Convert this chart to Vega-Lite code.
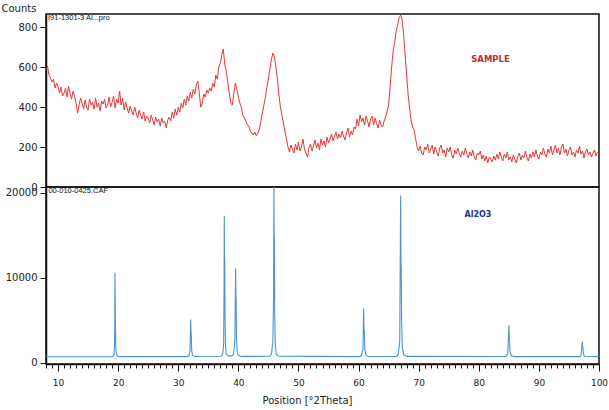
{
"$schema":"https://vega.github.io/schema/vega-lite/v6.json",
"background":"white",
"padding":{"left":0,"top":2,"right":5,"bottom":3},
"bounds":"flush",
"spacing":0,
"config":{"view":{"stroke":"#111","strokeWidth":1.5},"font":"DejaVu Sans",
"axis":{"domainColor":"#111","domainWidth":1.5,"tickColor":"#111","tickWidth":1,"labelColor":"#222","labelFont":"DejaVu Sans","grid":false}},
"datasets":{
"sample":[
{"x":8.0,"y":585},{"x":8.25,"y":605},{"x":8.5,"y":560},{"x":8.75,"y":545},{"x":9.0,"y":525},{"x":9.25,"y":540},{"x":9.5,"y":495},{"x":9.75,"y":520},
{"x":10.0,"y":505},{"x":10.25,"y":470},{"x":10.5,"y":500},{"x":10.75,"y":455},{"x":11.0,"y":470},{"x":11.25,"y":495},{"x":11.5,"y":450},{"x":11.75,"y":505},
{"x":12.0,"y":470},{"x":12.25,"y":440},{"x":12.5,"y":480},{"x":12.75,"y":455},{"x":13.0,"y":420},{"x":13.25,"y":370},{"x":13.5,"y":410},{"x":13.75,"y":445},
{"x":14.0,"y":420},{"x":14.25,"y":390},{"x":14.5,"y":435},{"x":14.75,"y":400},{"x":15.0,"y":385},{"x":15.25,"y":440},{"x":15.5,"y":410},{"x":15.75,"y":425},
{"x":16.0,"y":390},{"x":16.25,"y":445},{"x":16.5,"y":400},{"x":16.75,"y":420},{"x":17.0,"y":380},{"x":17.25,"y":430},{"x":17.5,"y":415},{"x":17.75,"y":440},
{"x":18.0,"y":395},{"x":18.25,"y":410},{"x":18.5,"y":450},{"x":18.75,"y":400},{"x":19.0,"y":425},{"x":19.25,"y":455},{"x":19.5,"y":395},{"x":19.75,"y":440},
{"x":20.0,"y":420},{"x":20.25,"y":480},{"x":20.5,"y":410},{"x":20.75,"y":445},{"x":21.0,"y":385},{"x":21.25,"y":425},{"x":21.5,"y":395},{"x":21.75,"y":370},
{"x":22.0,"y":405},{"x":22.25,"y":380},{"x":22.5,"y":360},{"x":22.75,"y":400},{"x":23.0,"y":370},{"x":23.25,"y":345},{"x":23.5,"y":385},{"x":23.75,"y":360},
{"x":24.0,"y":340},{"x":24.25,"y":375},{"x":24.5,"y":330},{"x":24.75,"y":355},{"x":25.0,"y":345},{"x":25.25,"y":320},{"x":25.5,"y":360},{"x":25.75,"y":335},
{"x":26.0,"y":310},{"x":26.25,"y":350},{"x":26.5,"y":325},{"x":26.75,"y":340},{"x":27.0,"y":305},{"x":27.25,"y":345},{"x":27.5,"y":320},{"x":27.75,"y":330},
{"x":28.0,"y":295},{"x":28.25,"y":335},{"x":28.5,"y":350},{"x":28.75,"y":330},{"x":29.0,"y":375},{"x":29.25,"y":345},{"x":29.5,"y":390},{"x":29.75,"y":360},
{"x":30.0,"y":400},{"x":30.25,"y":375},{"x":30.5,"y":420},{"x":30.75,"y":395},{"x":31.0,"y":440},{"x":31.25,"y":410},{"x":31.5,"y":455},{"x":31.75,"y":430},
{"x":32.0,"y":475},{"x":32.25,"y":445},{"x":32.5,"y":490},{"x":32.75,"y":465},{"x":33.0,"y":510},{"x":33.25,"y":530},{"x":33.5,"y":470},{"x":33.75,"y":400},
{"x":34.0,"y":420},{"x":34.25,"y":465},{"x":34.5,"y":450},{"x":34.75,"y":485},{"x":35.0,"y":470},{"x":35.25,"y":495},{"x":35.5,"y":480},{"x":35.75,"y":520},
{"x":36.0,"y":500},{"x":36.25,"y":560},{"x":36.5,"y":540},{"x":36.75,"y":600},{"x":37.0,"y":620},{"x":37.25,"y":660},{"x":37.5,"y":690},{"x":37.75,"y":610},
{"x":38.0,"y":580},{"x":38.25,"y":520},{"x":38.5,"y":470},{"x":38.75,"y":420},{"x":39.0,"y":410},{"x":39.25,"y":470},{"x":39.5,"y":520},{"x":39.75,"y":490},
{"x":40.0,"y":450},{"x":40.25,"y":420},{"x":40.5,"y":400},{"x":40.75,"y":360},{"x":41.0,"y":345},{"x":41.25,"y":330},{"x":41.5,"y":310},{"x":41.75,"y":305},
{"x":42.0,"y":280},{"x":42.25,"y":270},{"x":42.5,"y":260},{"x":42.75,"y":275},{"x":43.0,"y":255},{"x":43.25,"y":270},{"x":43.5,"y":290},{"x":43.75,"y":330},
{"x":44.0,"y":370},{"x":44.25,"y":410},{"x":44.5,"y":450},{"x":44.75,"y":500},{"x":45.0,"y":540},{"x":45.25,"y":590},{"x":45.5,"y":640},{"x":45.75,"y":670},
{"x":46.0,"y":650},{"x":46.25,"y":600},{"x":46.5,"y":540},{"x":46.75,"y":460},{"x":47.0,"y":400},{"x":47.25,"y":360},{"x":47.5,"y":320},{"x":47.75,"y":280},
{"x":48.0,"y":240},{"x":48.25,"y":200},{"x":48.5,"y":175},{"x":48.75,"y":210},{"x":49.0,"y":190},{"x":49.25,"y":170},{"x":49.5,"y":215},{"x":49.75,"y":185},
{"x":50.0,"y":225},{"x":50.25,"y":180},{"x":50.5,"y":200},{"x":50.75,"y":240},{"x":51.0,"y":190},{"x":51.25,"y":170},{"x":51.5,"y":150},{"x":51.75,"y":195},
{"x":52.0,"y":215},{"x":52.25,"y":180},{"x":52.5,"y":205},{"x":52.75,"y":235},{"x":53.0,"y":195},{"x":53.25,"y":220},{"x":53.5,"y":185},{"x":53.75,"y":240},
{"x":54.0,"y":210},{"x":54.25,"y":230},{"x":54.5,"y":200},{"x":54.75,"y":250},{"x":55.0,"y":220},{"x":55.25,"y":240},{"x":55.5,"y":265},{"x":55.75,"y":230},
{"x":56.0,"y":255},{"x":56.25,"y":275},{"x":56.5,"y":240},{"x":56.75,"y":265},{"x":57.0,"y":245},{"x":57.25,"y":280},{"x":57.5,"y":255},{"x":57.75,"y":235},
{"x":58.0,"y":270},{"x":58.25,"y":295},{"x":58.5,"y":250},{"x":58.75,"y":280},{"x":59.0,"y":260},{"x":59.25,"y":300},{"x":59.5,"y":290},{"x":59.75,"y":340},
{"x":60.0,"y":305},{"x":60.25,"y":360},{"x":60.5,"y":325},{"x":60.75,"y":345},{"x":61.0,"y":310},{"x":61.25,"y":355},{"x":61.5,"y":330},{"x":61.75,"y":300},
{"x":62.0,"y":340},{"x":62.25,"y":355},{"x":62.5,"y":310},{"x":62.75,"y":345},{"x":63.0,"y":320},{"x":63.25,"y":295},{"x":63.5,"y":335},{"x":63.75,"y":310},
{"x":64.0,"y":300},{"x":64.25,"y":330},{"x":64.5,"y":350},{"x":64.75,"y":380},{"x":65.0,"y":410},{"x":65.25,"y":500},{"x":65.5,"y":600},{"x":65.75,"y":680},
{"x":66.0,"y":720},{"x":66.25,"y":780},{"x":66.5,"y":810},{"x":66.75,"y":850},{"x":67.0,"y":860},{"x":67.25,"y":835},{"x":67.5,"y":760},{"x":67.75,"y":660},
{"x":68.0,"y":560},{"x":68.25,"y":460},{"x":68.5,"y":390},{"x":68.75,"y":330},{"x":69.0,"y":300},{"x":69.25,"y":285},{"x":69.5,"y":240},{"x":69.75,"y":200},
{"x":70.0,"y":180},{"x":70.25,"y":205},{"x":70.5,"y":170},{"x":70.75,"y":160},{"x":71.0,"y":200},{"x":71.25,"y":185},{"x":71.5,"y":215},{"x":71.75,"y":170},
{"x":72.0,"y":190},{"x":72.25,"y":210},{"x":72.5,"y":165},{"x":72.75,"y":200},{"x":73.0,"y":175},{"x":73.25,"y":155},{"x":73.5,"y":195},{"x":73.75,"y":210},
{"x":74.0,"y":170},{"x":74.25,"y":185},{"x":74.5,"y":150},{"x":74.75,"y":195},{"x":75.0,"y":175},{"x":75.25,"y":200},{"x":75.5,"y":160},{"x":75.75,"y":145},
{"x":76.0,"y":185},{"x":76.25,"y":165},{"x":76.5,"y":195},{"x":76.75,"y":170},{"x":77.0,"y":150},{"x":77.25,"y":180},{"x":77.5,"y":160},{"x":77.75,"y":195},
{"x":78.0,"y":170},{"x":78.25,"y":145},{"x":78.5,"y":175},{"x":78.75,"y":155},{"x":79.0,"y":185},{"x":79.25,"y":150},{"x":79.5,"y":135},{"x":79.75,"y":170},
{"x":80.0,"y":160},{"x":80.25,"y":180},{"x":80.5,"y":140},{"x":80.75,"y":160},{"x":81.0,"y":130},{"x":81.25,"y":155},{"x":81.5,"y":120},{"x":81.75,"y":150},
{"x":82.0,"y":140},{"x":82.25,"y":125},{"x":82.5,"y":155},{"x":82.75,"y":135},{"x":83.0,"y":165},{"x":83.25,"y":140},{"x":83.5,"y":175},{"x":83.75,"y":150},
{"x":84.0,"y":130},{"x":84.25,"y":165},{"x":84.5,"y":145},{"x":84.75,"y":175},{"x":85.0,"y":135},{"x":85.25,"y":150},{"x":85.5,"y":125},{"x":85.75,"y":160},
{"x":86.0,"y":140},{"x":86.25,"y":120},{"x":86.5,"y":155},{"x":86.75,"y":170},{"x":87.0,"y":135},{"x":87.25,"y":160},{"x":87.5,"y":145},{"x":87.75,"y":180},
{"x":88.0,"y":150},{"x":88.25,"y":130},{"x":88.5,"y":165},{"x":88.75,"y":145},{"x":89.0,"y":175},{"x":89.25,"y":150},{"x":89.5,"y":185},{"x":89.75,"y":155},
{"x":90.0,"y":140},{"x":90.25,"y":175},{"x":90.5,"y":160},{"x":90.75,"y":195},{"x":91.0,"y":165},{"x":91.25,"y":150},{"x":91.5,"y":190},{"x":91.75,"y":170},
{"x":92.0,"y":205},{"x":92.25,"y":160},{"x":92.5,"y":185},{"x":92.75,"y":210},{"x":93.0,"y":170},{"x":93.25,"y":195},{"x":93.5,"y":160},{"x":93.75,"y":200},
{"x":94.0,"y":215},{"x":94.25,"y":170},{"x":94.5,"y":190},{"x":94.75,"y":155},{"x":95.0,"y":185},{"x":95.25,"y":200},{"x":95.5,"y":160},{"x":95.75,"y":175},
{"x":96.0,"y":150},{"x":96.25,"y":185},{"x":96.5,"y":170},{"x":96.75,"y":205},{"x":97.0,"y":165},{"x":97.25,"y":180},{"x":97.5,"y":145},{"x":97.75,"y":175},
{"x":98.0,"y":190},{"x":98.25,"y":160},{"x":98.5,"y":175},{"x":98.75,"y":150},{"x":99.0,"y":170},{"x":99.25,"y":185},{"x":99.5,"y":155},{"x":99.75,"y":175},{"x":100.0,"y":165}
],
"ref":[
{"x":8,"y":700},{"x":19.0,"y":720},{"x":19.22,"y":800},{"x":19.32,"y":1000},{"x":19.4,"y":2000},{"x":19.44,"y":5000},{"x":19.47,"y":10600},{"x":19.5,"y":8000},{"x":19.52,"y":7300},{"x":19.55,"y":4000},{"x":19.62,"y":1800},{"x":19.72,"y":1000},{"x":19.87,"y":800},{"x":20.2,"y":720},
{"x":31.5,"y":720},{"x":31.8,"y":850},{"x":31.97,"y":1500},{"x":32.07,"y":5100},{"x":32.12,"y":3800},{"x":32.16,"y":3500},{"x":32.24,"y":1400},{"x":32.4,"y":850},{"x":32.7,"y":730},
{"x":37.1,"y":760},{"x":37.4,"y":1000},{"x":37.55,"y":2200},{"x":37.62,"y":8000},{"x":37.66,"y":17300},{"x":37.69,"y":13000},{"x":37.73,"y":11800},{"x":37.78,"y":6000},{"x":37.86,"y":2000},{"x":38.0,"y":1000},{"x":38.4,"y":800},
{"x":38.9,"y":800},{"x":39.2,"y":1000},{"x":39.42,"y":2500},{"x":39.55,"y":11100},{"x":39.59,"y":8000},{"x":39.63,"y":7500},{"x":39.69,"y":3000},{"x":39.8,"y":1300},{"x":40.0,"y":850},{"x":40.6,"y":740},
{"x":45.2,"y":760},{"x":45.5,"y":1000},{"x":45.75,"y":2500},{"x":45.86,"y":8000},{"x":45.92,"y":20700},{"x":45.96,"y":15000},{"x":46.0,"y":14400},{"x":46.05,"y":6000},{"x":46.14,"y":2200},{"x":46.32,"y":1000},{"x":46.7,"y":780},
{"x":60.2,"y":720},{"x":60.5,"y":850},{"x":60.74,"y":1600},{"x":60.85,"y":6400},{"x":60.9,"y":4000},{"x":60.96,"y":3800},{"x":61.04,"y":1500},{"x":61.25,"y":850},{"x":61.6,"y":730},
{"x":66.3,"y":740},{"x":66.6,"y":1000},{"x":66.85,"y":2500},{"x":67.0,"y":19700},{"x":67.05,"y":12000},{"x":67.1,"y":10900},{"x":67.16,"y":5000},{"x":67.28,"y":1800},{"x":67.5,"y":950},{"x":68.0,"y":740},
{"x":84.5,"y":730},{"x":84.82,"y":1000},{"x":85.03,"y":4400},{"x":85.08,"y":2800},{"x":85.12,"y":2600},{"x":85.2,"y":1200},{"x":85.45,"y":800},{"x":86.0,"y":720},
{"x":96.8,"y":720},{"x":97.02,"y":900},{"x":97.22,"y":2500},{"x":97.28,"y":1800},{"x":97.34,"y":1750},{"x":97.42,"y":1000},{"x":97.62,"y":760},{"x":100,"y":720}
]
},
"vconcat":[
{"width":553,"height":173,
"encoding":{
"x":{"field":"x","type":"quantitative","scale":{"domain":[8,100],"nice":false,"zero":false},"axis":null},
"y":{"field":"y","type":"quantitative","scale":{"domain":[0,866],"nice":false,"zero":false},
"axis":{"values":[0,200,400,600,800],"format":"d","title":"Counts","titleAngle":0,"titleAlign":"left","titleBaseline":"alphabetic","titleX":-45,"titleY":-3,"titleFontSize":10,"titleFontWeight":"normal","titleFont":"DejaVu Sans","titleColor":"#222","tickSize":6,"labelPadding":3,"labelFontSize":10}}},
"layer":[
{"data":{"name":"sample"},"mark":{"type":"line","color":"#e53935","strokeWidth":1,"clip":true}},
{"data":{"values":[{"x":8.33,"y":848,"t":"I91-1301-3 Al...pro"}]},"mark":{"type":"text","align":"left","baseline":"middle","font":"Liberation Sans","fontSize":7.5,"color":"#111"},"encoding":{"text":{"field":"t"}}},
{"data":{"values":[{"x":81.95,"y":641,"t":"SAMPLE"}]},"mark":{"type":"text","align":"center","baseline":"middle","font":"DejaVu Sans","fontWeight":"bold","fontSize":8.5,"color":"#b8312f"},"encoding":{"text":{"field":"t"}}}
]},
{"width":553,"height":177,
"encoding":{
"x":{"field":"x","type":"quantitative","scale":{"domain":[8,100],"nice":false,"zero":false},
"axis":{"values":[8,9,10,11,12,13,14,15,16,17,18,19,20,21,22,23,24,25,26,27,28,29,30,31,32,33,34,35,36,37,38,39,40,41,42,43,44,45,46,47,48,49,50,51,52,53,54,55,56,57,58,59,60,61,62,63,64,65,66,67,68,69,70,71,72,73,74,75,76,77,78,79,80,81,82,83,84,85,86,87,88,89,90,91,92,93,94,95,96,97,98,99,100],
"labelExpr":"datum.value % 10 === 0 ? datum.label : ''","labelOverlap":false,"labelFlush":false,
"tickSize":{"condition":{"test":"datum.value % 10 === 0","value":7},"value":4},
"labelPadding":7,"labelFontSize":9,"title":"Position [°2Theta]","titleFontSize":10,"titleFontWeight":"normal","titleColor":"#222","titlePadding":8,"titleX":261}},
"y":{"field":"y","type":"quantitative","scale":{"domain":[-153,20707],"nice":false,"zero":false},
"axis":{"values":[0,10000,20000],"format":"d","title":null,"tickSize":6,"labelPadding":3,"labelFontSize":10}}},
"layer":[
{"data":{"name":"ref"},"mark":{"type":"line","color":"#4a94d6","strokeWidth":1.1,"clip":true}},
{"data":{"values":[{"x":8.4,"y":20290,"t":"00-010-0425.CAF"}]},"mark":{"type":"text","align":"left","baseline":"middle","font":"Liberation Sans","fontSize":7.5,"color":"#111"},"encoding":{"text":{"field":"t"}}},
{"data":{"values":[{"x":79.87,"y":17400,"t":"Al2O3"}]},"mark":{"type":"text","align":"center","baseline":"middle","font":"DejaVu Sans","fontWeight":"bold","fontSize":8,"color":"#22308f"},"encoding":{"text":{"field":"t"}}}
]}
]
}
